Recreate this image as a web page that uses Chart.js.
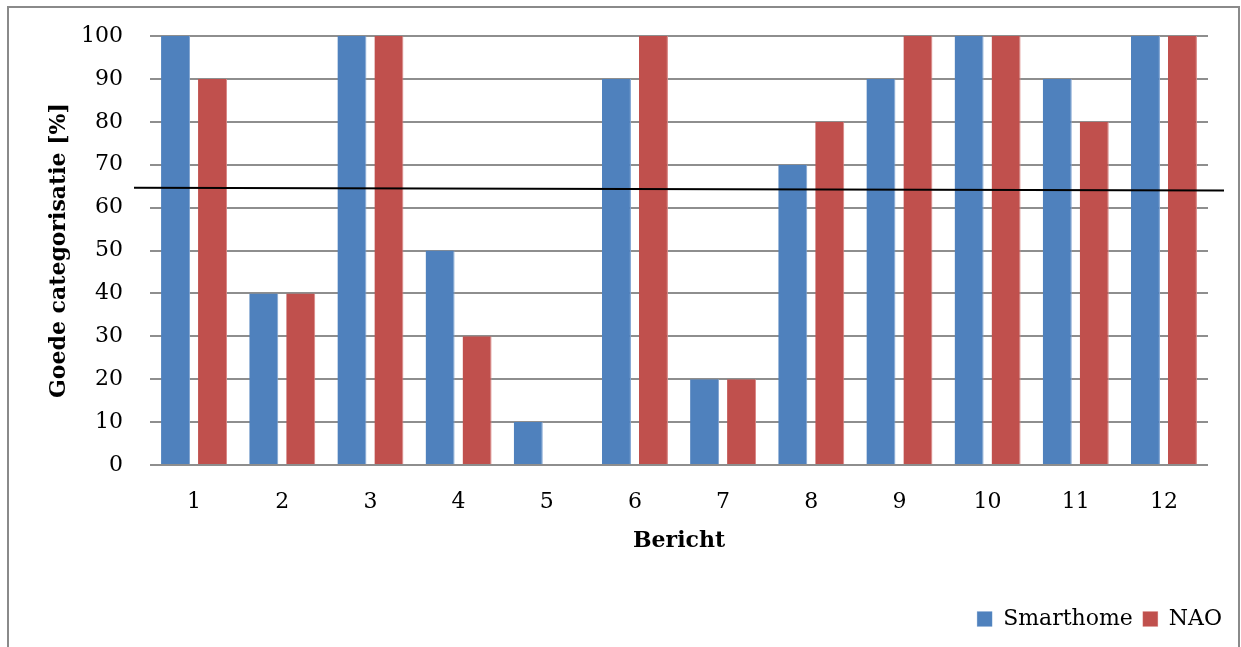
<!DOCTYPE html>
<html>
<head>
<meta charset="utf-8">
<script src="https://cdn.jsdelivr.net/npm/chart.js@4.4.1/dist/chart.umd.min.js"></script>
<style>
  html, body { margin: 0; padding: 0; background: #fff; overflow: hidden; }
  #frame {
    position: absolute; left: 7px; top: 6px; width: 1233px; height: 700px;
    box-sizing: border-box; border: 2px solid #8a8a8a;
  }
  #wrap { position: absolute; left: 0; top: 0; width: 1241px; height: 647px; }
</style>
</head>
<body>
<div id="frame"></div>
<div id="wrap"><canvas id="barChart" width="1241" height="647"></canvas></div>
<script>
var berichten = ["1", "2", "3", "4", "5", "6", "7", "8", "9", "10", "11", "12"];
var smarthome = [100, 40, 100, 50, 10, 90, 20, 70, 90, 100, 90, 100];
var nao = [90, 40, 100, 30, 0, 100, 20, 80, 100, 100, 80, 100];
var yTicks = [0, 10, 20, 30, 40, 50, 60, 70, 80, 90, 100];
// hand drawn reference line, value at left and right end
var grensLijn = [64.6, 64.0];

Chart.defaults.font.family = "'DejaVu Serif', serif";
Chart.defaults.font.size = 22;
Chart.defaults.color = '#000';

var grensPlugin = {
  id: 'grens',
  afterDatasetsDraw: function (chart) {
    var ctx = chart.ctx;
    var y = chart.scales.y;
    var area = chart.chartArea;
    ctx.save();
    ctx.strokeStyle = '#000';
    ctx.lineWidth = 2;
    ctx.beginPath();
    ctx.moveTo(area.left - 16, y.getPixelForValue(grensLijn[0]));
    ctx.lineTo(area.right + 16, y.getPixelForValue(grensLijn[1]));
    ctx.stroke();
    ctx.restore();
  }
};

// fixed axis sizes, no extra label padding around the plot
function vasteBreedte(w) {
  return function (scale) {
    scale.width = w;
    scale.paddingTop = 0;
    scale.paddingBottom = 0;
  };
}

var ctx = document.getElementById('barChart').getContext('2d');
var chart = new Chart(ctx, {
  type: 'bar',
  data: {
    labels: berichten,
    datasets: [
      { label: 'Smarthome', data: smarthome, backgroundColor: '#4F81BD',
        borderColor: '#7fa3d1', borderWidth: { right: 1 }, borderSkipped: false,
        categoryPercentage: 0.839, barPercentage: 0.784 },
      { label: 'NAO', data: nao, backgroundColor: '#C0504D',
        borderColor: '#d98583', borderWidth: { right: 1 }, borderSkipped: false,
        categoryPercentage: 0.839, barPercentage: 0.784 }
    ]
  },
  options: {
    responsive: false,
    animation: false,
    layout: { padding: { left: 0, top: 36, right: 9, bottom: 7 } },
    plugins: {
      tooltip: { enabled: false },
      legend: {
        position: 'bottom',
        align: 'end',
        labels: { boxWidth: 15, boxHeight: 15, padding: 10, font: { size: 22 } }
      }
    },
    scales: {
      x: {
        grid: { display: false },
        border: { display: false },
        ticks: { padding: 16 },
        title: { display: true, text: 'Bericht', font: { weight: 'bold', size: 22 },
                 padding: { top: 0, bottom: 44 } },
        afterFit: function (scale) { scale.height = 133; }
      },
      y: {
        min: 0,
        max: 100,
        afterBuildTicks: function (scale) {
          scale.ticks = yTicks.map(function (v) { return { value: v }; });
        },
        grid: { color: '#8e8e8e', lineWidth: 2, drawTicks: false },
        border: { display: false },
        ticks: { padding: 27 },
        title: { display: true, text: 'Goede categorisatie [%]', font: { weight: 'bold', size: 22 },
                 padding: { top: 46, bottom: 0 } },
        afterFit: vasteBreedte(150)
      },
      rechts: {
        position: 'right',
        display: true,
        grid: { display: false },
        border: { display: false },
        ticks: { display: false },
        afterFit: vasteBreedte(24)
      }
    }
  },
  plugins: [grensPlugin]
});
</script>
</body>
</html>
